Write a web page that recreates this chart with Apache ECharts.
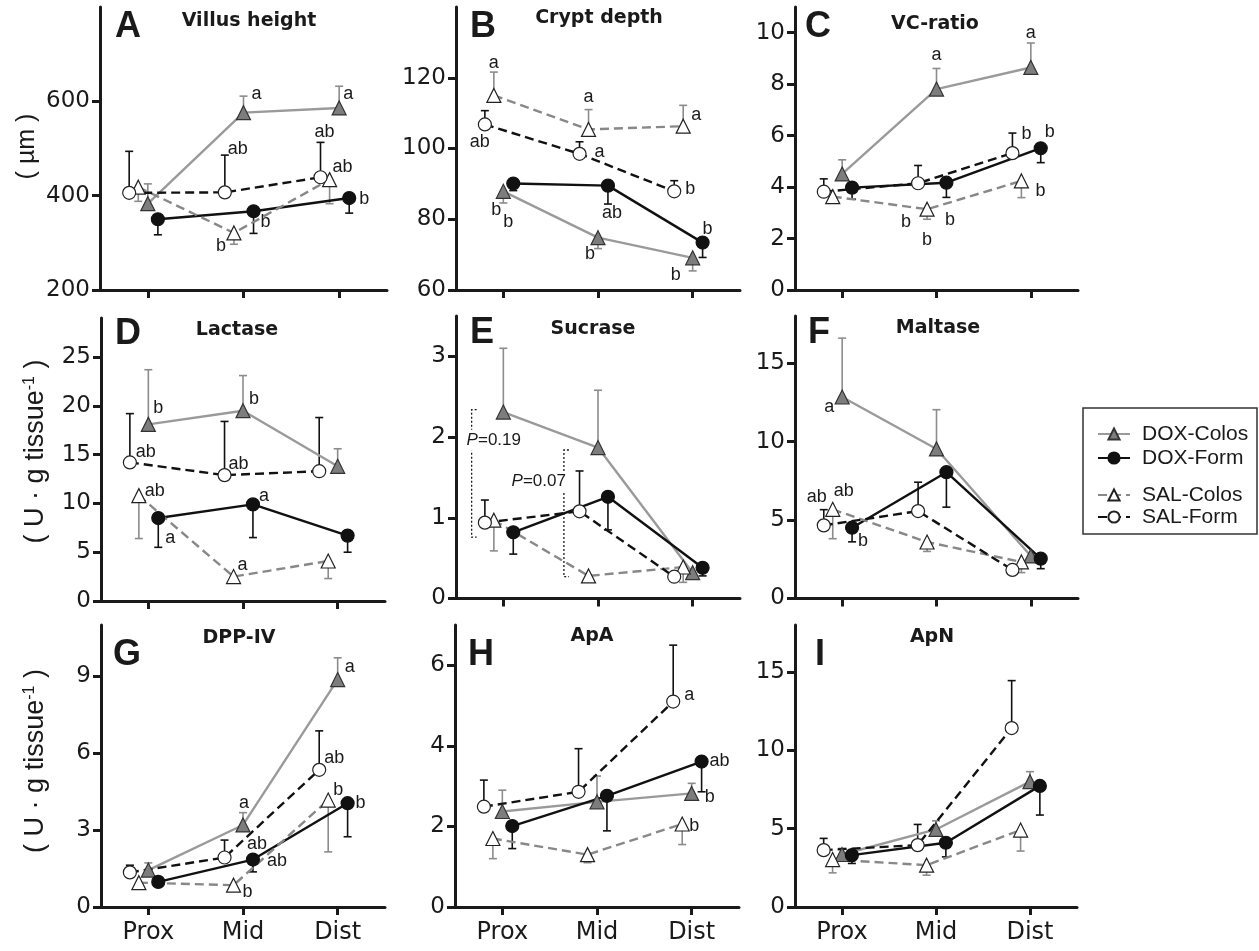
<!DOCTYPE html>
<html lang="en" style="height: 100%">
<head>
    <meta charset="UTF-8">
    <title>Intestinal morphology and brush border enzymes</title>
    <script src="https://cdn.jsdelivr.net/npm/echarts@6/dist/echarts.min.js"></script>
</head>
<body style="height: 100%; margin: 0; background: #fff">
<div id="main" style="width: 1259px; height: 951px"></div>
<script>
    // ---- data ----
    var sites = ['Prox', 'Mid', 'Dist'];
    var groups = ['DOX-Colos', 'DOX-Form', 'SAL-Colos', 'SAL-Form'];

    // rows follow groups; error > 0 is drawn upward, < 0 downward, 0 hidden
    var villusMean = [[383, 576, 586], [350, 367, 395], [418, 321, 434], [406, 407, 439]];
    var villusErr = [[42, 35, 46], [-33, -47, -32], [-30, -24, -51], [88, 79, 74]];
    var cryptMean = [[87.9, 74.8, 69.1], [90.1, 89.5, 73.4], [115, 105.4, 106.3], [106.8, 98.5, 87.9]];
    var cryptErr = [[-3.3, -3.1, -3.7], [-2, -5.2, -4.2], [6.6, 5.6, 5.9], [3.9, 3.4, 3]];
    var vcMean = [[4.51, 7.81, 8.65], [3.98, 4.17, 5.51], [3.63, 3.14, 4.24], [3.82, 4.15, 5.32]];
    var vcErr = [[0.55, 0.8, 0.95], [-0.45, -0.57, -0.56], [-0.1, -0.39, -0.65], [0.5, 0.69, 0.78]];
    var lactaseMean = [[18.1, 19.5, 13.8], [8.5, 9.9, 6.7], [10.8, 2.5, 4.1], [14.2, 12.9, 13.3]];
    var lactaseErr = [[5.6, 3.6, 1.8], [-3, -3.4, -1.7], [-4.4, 0, -1.8], [5, 5.5, 5.5]];
    var sucraseMean = [[2.31, 1.87, 0.32], [0.82, 1.26, 0.38], [0.97, 0.28, 0.39], [0.94, 1.08, 0.27]];
    var sucraseErr = [[0.79, 0.71, 0], [-0.27, -0.41, -0.1], [-0.38, 0, -0.19], [0.28, 0.5, 0]];
    var maltaseMean = [[12.84, 9.53, 2.71], [4.51, 8.05, 2.54], [5.68, 3.6, 2.33], [4.66, 5.57, 1.82]];
    var maltaseErr = [[3.75, 2.5, 0], [-0.9, -2.23, -0.64], [-1.87, -0.6, -0.68], [1.0, 1.84, 0]];
    var dppMean = [[1.44, 3.2, 8.87], [0.98, 1.85, 4.05], [0.95, 0.85, 4.17], [1.35, 1.93, 5.35]];
    var dppErr = [[0.28, 0.48, 0.85], [0, -0.48, -1.31], [0, 0, -2.02], [0.28, 0.68, 1.52]];
    var apaMean = [[2.37, 2.61, 2.82], [2.01, 2.76, 3.61], [1.7, 1.3, 2.06], [2.49, 2.86, 5.1]];
    var apaErr = [[0.53, 0.64, 0.25], [-0.56, -0.87, -0.75], [-0.5, -0.2, -0.51], [0.66, 1.07, 1.4]];
    var apnMean = [[3.35, 4.95, 8.0], [3.31, 4.1, 7.73], [3.03, 2.67, 4.91], [3.63, 3.95, 11.42]];
    var apnErr = [[0.39, 0.55, 0.64], [-0.53, -0.9, -1.86], [-0.85, -0.64, -1.34], [0.75, 1.32, 3.03]];

    // significance letters: [group, site, text]
    var villusLetters = [[0, 1, 'a'], [0, 2, 'a'], [3, 1, 'ab'], [3, 2, 'ab'], [2, 2, 'ab'], [1, 2, 'b'], [1, 1, 'b'], [2, 1, 'b']];
    var cryptLetters = [[2, 0, 'a'], [2, 1, 'a'], [2, 2, 'a'], [3, 0, 'ab'], [3, 1, 'a'], [3, 2, 'b'], [0, 0, 'b'], [1, 0, 'b'], [1, 1, 'ab'], [1, 2, 'b'], [0, 1, 'b'], [0, 2, 'b']];
    var vcLetters = [[0, 1, 'a'], [0, 2, 'a'], [3, 2, 'b'], [1, 2, 'b'], [2, 2, 'b'], [2, 1, 'b'], [2, 1, 'b'], [2, 1, 'b']];
    var lactaseLetters = [[0, 0, 'b'], [0, 1, 'b'], [3, 0, 'ab'], [3, 1, 'ab'], [2, 0, 'ab'], [1, 0, 'a'], [1, 1, 'a'], [2, 1, 'a']];
    var maltaseLetters = [[0, 0, 'a'], [2, 0, 'ab'], [3, 0, 'ab'], [1, 0, 'b']];
    var dppLetters = [[0, 1, 'a'], [0, 2, 'a'], [3, 2, 'ab'], [2, 2, 'b'], [1, 2, 'b'], [1, 1, 'ab'], [1, 1, 'ab'], [2, 1, 'b']];
    var apaLetters = [[3, 2, 'a'], [1, 2, 'ab'], [0, 2, 'b'], [2, 2, 'b']];

    // sucrase P brackets: [p text, low, high, label level]
    var sucraseP = [['0.19', 0.76, 2.34, 1.96], ['0.07', 0.27, 1.84, 1.45]];

    // axis ranges and tick labels
    var villusTicks = [200, 400, 600], cryptTicks = [60, 80, 100, 120], vcTicks = [0, 2, 4, 6, 8, 10];
    var lactaseTicks = [0, 5, 10, 15, 20, 25], sucraseTicks = [0, 1, 2, 3], maltaseTicks = [0, 5, 10, 15];
    var dppTicks = [0, 3, 6, 9], apaTicks = [0, 2, 4, 6], apnTicks = [0, 5, 10, 15];

    // ---- layout / style ----
    var FONT = '"Liberation Sans", Arial, Helvetica, sans-serif';
    var WIDE = '"DejaVu Sans", "Liberation Sans", sans-serif';
    var INK = '#1a1a1a';
    var jitter = [0, 0.105, -0.1, -0.195];
    var looks = [
        {symbol: 'triangle', fill: '#7d7d7d', border: '#333', line: '#9a9a9a', dash: 'solid', bar: '#8c8c8c'},
        {symbol: 'circle', fill: '#111', border: '#111', line: '#111', dash: 'solid', bar: '#111'},
        {symbol: 'triangle', fill: '#fff', border: '#222', line: '#888', dash: [9, 5], bar: '#8c8c8c'},
        {symbol: 'circle', fill: '#fff', border: '#222', line: '#111', dash: [9, 5], bar: '#111'}
    ];
    var unitName = '( U · g tissue{sup|-1} )';

    var panels = [
        {id: 'A', title: 'Villus height', mean: villusMean, err: villusErr, letters: villusLetters, min: 200, max: 800, ticks: villusTicks,
            box: [100, 7, 287, 283], lp: [115, 27], tp: [249, 21], name: '( µm )', gap: 60, nameSize: 25, namePad: 4,
            nudge: [[13, -19], [9, -14], [13, -43], [4, -45], [13, -13], [15, 1], [12, 11], [-13, 13]]},
        {id: 'B', title: 'Crypt depth', mean: cryptMean, err: cryptErr, letters: cryptLetters, min: 60, max: 140, ticks: cryptTicks,
            box: [456, 7, 284, 283], lp: [470, 27], tp: [599, 18],
            nudge: [[0, -32], [0, -32], [13, -11], [-5, 18], [20, -2], [16, -2], [-7, 19], [-5, 39], [4, 27], [5, -14], [-8, 16], [-17, 17]]},
        {id: 'C', title: 'VC-ratio', mean: vcMean, err: vcErr, letters: vcLetters, min: 0, max: 11, ticks: vcTicks,
            box: [795, 7, 283, 283], lp: [805, 27], tp: [935, 24],
            nudge: [[0, -34], [0, -34], [14, -19], [9, -16], [19, 10], [0, 31], [-21, 13], [23, 11]]},
        {id: 'D', title: 'Lactase', mean: lactaseMean, err: lactaseErr, letters: lactaseLetters, min: 0, max: 29, ticks: lactaseTicks,
            box: [101, 318, 284, 283], lp: [115, 334], tp: [237, 330], name: unitName, gap: 52, nameSize: 27, namePad: 16,
            nudge: [[10, -16], [11, -12], [16, -10], [14, -11], [16, -5], [12, 20], [11, -8], [9, -12]]},
        {id: 'E', title: 'Sucrase', mean: sucraseMean, err: sucraseErr, letters: [], min: 0, max: 3.5, ticks: sucraseTicks,
            box: [456, 316, 284, 282.5], lp: [470, 333], tp: [593, 329], nudge: []},
        {id: 'F', title: 'Maltase', mean: maltaseMean, err: maltaseErr, letters: maltaseLetters, min: 0, max: 18, ticks: maltaseTicks,
            box: [795, 316, 283, 282.5], lp: [808, 333], tp: [938, 328],
            nudge: [[-13, 10], [11, -18], [-7, -28], [11, 13]]},
        {id: 'G', title: 'DPP-IV', mean: dppMean, err: dppErr, letters: dppLetters, min: 0, max: 11, ticks: dppTicks,
            box: [101, 625, 284, 282], lp: [113, 655], tp: [239, 638], name: unitName, gap: 52, nameSize: 27, namePad: 10,
            nudge: [[1, -22], [12, -13], [15, -12], [10, -10], [13, 0], [4, -16], [24, 1], [14, 7]]},
        {id: 'H', title: 'ApA', mean: apaMean, err: apaErr, letters: apaLetters, min: 0, max: 7, ticks: apaTicks,
            box: [455, 625, 284, 282], lp: [468, 655], tp: [592, 636],
            nudge: [[16, -7], [18, -1], [18, 4], [12, 2]]},
        {id: 'I', title: 'ApN', mean: apnMean, err: apnErr, letters: [], min: 0, max: 18, ticks: apnTicks,
            box: [795, 625, 282, 282], lp: [815, 655], tp: [932, 637], nudge: []}
    ];
    var bracketX = [-0.335, 0.64], bracketAlign = ['left', 'right'], bracketDx = [-5, 2];

    function errBar(color) {
        return function (params, api) {
            var e = api.value(2);
            if (!e) return null;
            var p0 = api.coord([api.value(0), api.value(1)]);
            var p1 = api.coord([api.value(0), api.value(1) + e]);
            return {
                type: 'group', children: [
                    {type: 'line', shape: {x1: p0[0], y1: p0[1], x2: p1[0], y2: p1[1]}, style: {stroke: color, lineWidth: 1.6}},
                    {type: 'line', shape: {x1: p1[0] - 4, y1: p1[1], x2: p1[0] + 4, y2: p1[1]}, style: {stroke: color, lineWidth: 1.6}}
                ]
            };
        };
    }

    var grid = [], xAxis = [], yAxis = [], series = [], graphic = [];

    panels.forEach(function (p, k) {
        var bottomRow = k >= 6;
        grid.push({left: p.box[0], top: p.box[1], width: p.box[2], height: p.box[3], containLabel: false, outerBoundsMode: 'none'});
        xAxis.push({
            gridIndex: k, type: 'value', min: -0.5, max: 2.5,
            axisLine: {onZero: false, lineStyle: {color: INK, width: 3}},
            axisTick: {customValues: [0, 1, 2], length: 8, lineStyle: {color: INK, width: 3}},
            axisLabel: {show: bottomRow, customValues: [0, 1, 2], formatter: function (v) { return sites[Math.round(v)]; },
                fontSize: 24, fontFamily: WIDE, color: INK, margin: 14},
            splitLine: {show: false}
        });
        yAxis.push({
            gridIndex: k, type: 'value', min: p.min, max: p.max,
            axisLine: {show: true, onZero: false, lineStyle: {color: INK, width: 3}},
            axisTick: {show: true, customValues: p.ticks, length: 8, lineStyle: {color: INK, width: 3}},
            axisLabel: {customValues: p.ticks, fontSize: 23, fontFamily: WIDE, color: INK, margin: 10},
            splitLine: {show: false},
            name: p.name || '', nameLocation: 'middle', nameRotate: 90, nameGap: p.gap || 50,
            nameTextStyle: {fontSize: p.nameSize || 25, fontFamily: FONT, color: INK, padding: [0, 0, 0, p.namePad || 0],
                rich: {sup: {fontSize: 16, fontFamily: FONT, color: INK, verticalAlign: 'top'}}}
        });

        groups.forEach(function (g, gi) {
            var lk = looks[gi];
            series.push({
                type: 'custom', xAxisIndex: k, yAxisIndex: k, z: 1, silent: true,
                renderItem: errBar(lk.bar),
                data: p.mean[gi].map(function (v, i) { return [i + jitter[gi], v, p.err[gi][i]]; })
            });
        });
        groups.forEach(function (g, gi) {
            var lk = looks[gi];
            series.push({
                name: g, type: 'line', xAxisIndex: k, yAxisIndex: k, z: 2,
                symbol: lk.symbol, symbolSize: lk.symbol === 'circle' ? 13 : 14,
                itemStyle: {color: lk.fill, borderColor: lk.border, borderWidth: 1.2},
                lineStyle: {color: lk.line, width: 2.4, type: lk.dash},
                emphasis: {disabled: true},
                data: p.mean[gi].map(function (v, i) { return [i + jitter[gi], v]; })
            });
        });
        if (p.letters.length) {
            series.push({
                type: 'custom', xAxisIndex: k, yAxisIndex: k, z: 5, silent: true,
                data: p.letters.map(function (l) { return [l[1] + jitter[l[0]], p.mean[l[0]][l[1]]]; }),
                renderItem: function (params, api) {
                    var pt = api.coord([api.value(0), api.value(1)]);
                    var n = p.nudge[params.dataIndex];
                    return {type: 'text', x: pt[0] + n[0], y: pt[1] + n[1],
                        style: {text: p.letters[params.dataIndex][2], font: '18px ' + FONT, fill: INK,
                            textAlign: 'center', textVerticalAlign: 'middle'}};
                }
            });
        }
        if (p.id === 'E') {
            series.push({
                type: 'custom', xAxisIndex: k, yAxisIndex: k, z: 4, silent: true,
                data: sucraseP.map(function (b, i) { return [bracketX[i], b[1], b[2], b[3]]; }),
                renderItem: function (params, api) {
                    var i = params.dataIndex;
                    var lo = api.coord([api.value(0), api.value(1)]);
                    var hi = api.coord([api.value(0), api.value(2)]);
                    var mid = api.coord([api.value(0), api.value(3)]);
                    return {
                        type: 'group', children: [
                            {type: 'polyline', shape: {points: [[hi[0] + 5, hi[1]], [hi[0], hi[1]], [lo[0], lo[1]], [lo[0] + 5, lo[1]]]},
                                style: {stroke: INK, lineWidth: 1.3, lineDash: [2, 2], fill: null}},
                            {type: 'text', x: mid[0] + bracketDx[i], y: mid[1], z2: 10,
                                style: {text: '{i|P}=' + sucraseP[i][0], rich: {i: {fontStyle: 'italic', font: 'italic 17px ' + FONT}},
                                    font: '17px ' + FONT, fill: INK, backgroundColor: '#fff', padding: [2, 0, 2, 0],
                                    textAlign: bracketAlign[i], textVerticalAlign: 'middle'}}
                        ]
                    };
                }
            });
        }

        graphic.push({type: 'text', x: p.lp[0], y: p.lp[1],
            style: {text: p.id, font: 'bold 36px ' + FONT, fill: INK, textAlign: 'left', textVerticalAlign: 'middle'}});
        graphic.push({type: 'text', x: p.tp[0], y: p.tp[1],
            style: {text: p.title, font: 'bold 19px ' + WIDE, fill: INK, textAlign: 'center', textVerticalAlign: 'middle'}});
    });

    graphic.push({type: 'rect', shape: {x: 1083, y: 408, width: 174, height: 126},
        style: {fill: 'none', stroke: '#333', lineWidth: 1.5}});

    var legendText = {fontSize: 21, fontFamily: FONT, color: INK, lineHeight: 22, padding: [0, 0, 0, 7]};
    var option = {
        backgroundColor: '#fff',
        animation: false,
        grid: grid,
        xAxis: xAxis,
        yAxis: yAxis,
        legend: [
            {data: groups.slice(0, 2), orient: 'vertical', left: 1092, top: 418, itemWidth: 32, itemHeight: 14,
                itemGap: 2, selectedMode: false, textStyle: legendText},
            {data: groups.slice(2), orient: 'vertical', left: 1092, top: 479, itemWidth: 32, itemHeight: 14,
                itemGap: 0, selectedMode: false, textStyle: legendText}
        ],
        graphic: graphic,
        series: series
    };

    var myChart = echarts.init(document.getElementById('main'));
    myChart.setOption(option);
</script>
</body>
</html>
